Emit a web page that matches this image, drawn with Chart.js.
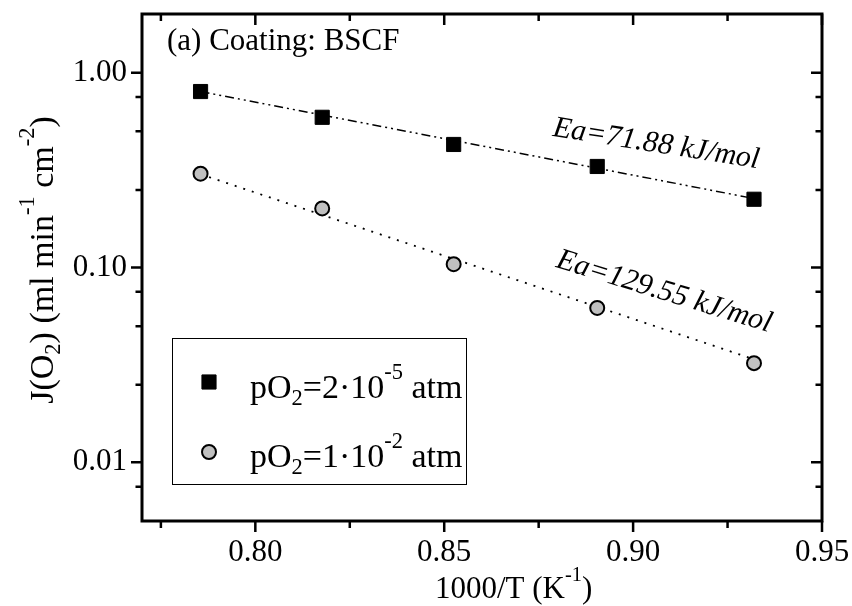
<!DOCTYPE html>
<html>
<head>
<meta charset="utf-8">
<script src="https://cdn.jsdelivr.net/npm/chart.js@4/dist/chart.umd.min.js"></script>
<style>
  html, body { margin: 0; padding: 0; background: #fff; }
  canvas { display: block; }
</style>
</head>
<body>
<canvas id="fluxChart" width="852" height="606"></canvas>
<script>
// 1000/T (K^-1) for 1000, 950, 900, 850 and 800 C
var invTemp = [0.7855, 0.8177, 0.8525, 0.8905, 0.9320];
// oxygen flux J(O2), ml min^-1 cm^-2
var fluxLowPO2  = [0.80, 0.59, 0.428, 0.33, 0.224];
var fluxHighPO2 = [0.303, 0.201, 0.104, 0.062, 0.0323];

// Arrhenius fit lines, end points
var fitX       = [0.7855, 0.9320];
var fitLowPO2  = [0.80, 0.226];
var fitHighPO2 = [0.301, 0.0338];

var xMajorTicks = [0.80, 0.85, 0.90, 0.95];
var xMinorTicks = [0.775, 0.825, 0.875, 0.925];
var yMajorTicks = [0.01, 0.1, 1];
var yMinorTicks = [0.0075, 0.025, 0.05, 0.075, 0.25, 0.5, 0.75];

var SERIF = '"Liberation Serif", "Times New Roman", serif';

function toPoints(xs, ys) {
  var pts = [];
  for (var i = 0; i < xs.length; i++) pts.push({x: xs[i], y: ys[i]});
  return pts;
}

// text with sub/superscript pieces: [text, ''|'sub'|'sup']
function richWidth(ctx, parts, size, italic) {
  var w = 0;
  parts.forEach(function (p) {
    var s = p[1] ? size * 0.66 : size;
    ctx.font = (italic ? 'italic ' : '') + s + 'px ' + SERIF;
    w += ctx.measureText(p[0]).width;
  });
  return w;
}
function drawRich(ctx, parts, x, y, size, italic) {
  var cx = x;
  ctx.textAlign = 'left';
  ctx.textBaseline = 'alphabetic';
  parts.forEach(function (p) {
    var s = p[1] ? size * 0.66 : size;
    var dy = p[1] === 'sub' ? size * 0.22 : (p[1] === 'sup' ? -size * 0.55 : 0);
    ctx.font = (italic ? 'italic ' : '') + s + 'px ' + SERIF;
    ctx.fillText(p[0], cx, y + dy);
    cx += ctx.measureText(p[0]).width;
  });
}

var legendItems = [
  {dataset: 0, parts: [['pO', ''], ['2', 'sub'], ['=2\u00b710', ''], ['-5', 'sup'], [' atm', '']]},
  {dataset: 1, parts: [['pO', ''], ['2', 'sub'], ['=1\u00b710', ''], ['-2', 'sup'], [' atm', '']]}
];

// frame, inward/outward ticks, titles, legend box and labels
var decorations = {
  id: 'decorations',
  afterDraw: function (chart) {
    var ctx = chart.ctx;
    var a = chart.chartArea;
    var xs = chart.scales.x, ys = chart.scales.y;
    ctx.save();
    ctx.strokeStyle = '#000';
    ctx.fillStyle = '#000';
    ctx.lineCap = 'butt';

    ctx.lineWidth = 2.5;
    function tickX(v, len) {
      var px = xs.getPixelForValue(v);
      ctx.beginPath();
      ctx.moveTo(px, a.bottom); ctx.lineTo(px, a.bottom + len);
      ctx.moveTo(px, a.top); ctx.lineTo(px, a.top + len);
      ctx.stroke();
    }
    function tickY(v, len) {
      var py = ys.getPixelForValue(v);
      ctx.beginPath();
      ctx.moveTo(a.left, py); ctx.lineTo(a.left - len, py);
      ctx.moveTo(a.right, py); ctx.lineTo(a.right - len, py);
      ctx.stroke();
    }
    xMajorTicks.forEach(function (v) { tickX(v, 11); });
    xMinorTicks.forEach(function (v) { tickX(v, 7); });
    yMajorTicks.forEach(function (v) { tickY(v, 11); });
    yMinorTicks.forEach(function (v) { tickY(v, 6.5); });

    ctx.lineWidth = 3;
    ctx.strokeRect(a.left, a.top, a.right - a.left, a.bottom - a.top);

    // axis titles
    drawRich(ctx, [['1000/T (K', ''], ['-1', 'sup'], [')', '']], 435, 598, 31);
    var yTitle = [['J(O', ''], ['2', 'sub'], [') (ml min', ''], ['-1', 'sup'], [' cm', ''], ['-2', 'sup'], [')', '']];
    var tw = richWidth(ctx, yTitle, 34);
    ctx.save();
    ctx.translate(53, 260);
    ctx.rotate(-Math.PI / 2);
    drawRich(ctx, yTitle, -tw / 2, 0, 34);
    ctx.restore();

    // panel label
    drawRich(ctx, [['(a) Coating: BSCF', '']], 167, 50, 31);

    // activation energies along the fit lines
    function ea(text, xv, yv, deg) {
      ctx.save();
      ctx.translate(xs.getPixelForValue(xv), ys.getPixelForValue(yv));
      ctx.rotate(deg * Math.PI / 180);
      drawRich(ctx, [[text, '']], 0, 0, 30, true);
      ctx.restore();
    }
    ea('Ea=71.88 kJ/mol', 0.8785, 0.475, 9);
    ea('Ea=129.55 kJ/mol', 0.8793, 0.1008, 17);

    // legend
    ctx.lineWidth = 1;
    ctx.strokeRect(172.5, 338.5, 294, 146);
    legendItems.forEach(function (item, i) {
      var ds = chart.data.datasets[item.dataset];
      var cy = 382 + i * 70;
      ctx.fillStyle = ds.backgroundColor;
      ctx.strokeStyle = ds.borderColor;
      ctx.lineWidth = ds.borderWidth;
      Chart.helpers.drawPoint(ctx, {
        pointStyle: ds.pointStyle, rotation: 0,
        radius: ds.pointRadius, borderWidth: ds.borderWidth
      }, 209, cy);
      ctx.fillStyle = '#000';
      drawRich(ctx, item.parts, 250, 398 + i * 69, 34);
    });
    ctx.restore();
  }
};

new Chart(document.getElementById('fluxChart'), {
  type: 'scatter',
  data: {
    datasets: [
      {
        label: 'pO2=2e-5 atm',
        data: toPoints(invTemp, fluxLowPO2),
        pointStyle: 'rect',
        pointRadius: 10,
        backgroundColor: '#000',
        borderColor: '#000',
        borderWidth: 1,
        showLine: false
      },
      {
        label: 'pO2=1e-2 atm',
        data: toPoints(invTemp, fluxHighPO2),
        pointStyle: 'circle',
        pointRadius: 7,
        backgroundColor: '#c0c0c0',
        borderColor: '#000',
        borderWidth: 2,
        showLine: false
      },
      {
        label: 'fit 1',
        data: toPoints(fitX, fitLowPO2),
        showLine: true,
        pointRadius: 0,
        borderColor: '#000',
        borderWidth: 1.5,
        borderDash: [9, 4, 2, 4, 2, 4],
        fill: false
      },
      {
        label: 'fit 2',
        data: toPoints(fitX, fitHighPO2),
        showLine: true,
        pointRadius: 0,
        borderColor: '#000',
        borderWidth: 1.8,
        borderDash: [2, 7],
        fill: false
      }
    ]
  },
  options: {
    responsive: false,
    animation: false,
    devicePixelRatio: 1,
    layout: { padding: { top: 14, right: 30, left: 0, bottom: 0 } },
    plugins: {
      legend: { display: false },
      tooltip: { enabled: false }
    },
    scales: {
      x: {
        type: 'linear',
        min: 0.77,
        max: 0.95,
        afterBuildTicks: function (scale) {
          scale.ticks = xMajorTicks.map(function (v) { return {value: v}; });
        },
        afterFit: function (scale) {
          scale.height = 85;
          scale.paddingLeft = 0; scale.paddingRight = 0;
        },
        ticks: {
          callback: function (v) { return Number(v).toFixed(2); },
          font: { family: SERIF, size: 31 },
          color: '#000',
          padding: 13,
          maxRotation: 0,
          autoSkip: false
        },
        grid: { display: false, drawTicks: false },
        border: { display: false }
      },
      y: {
        type: 'logarithmic',
        min: 0.005,
        max: 2,
        afterBuildTicks: function (scale) {
          scale.ticks = yMajorTicks.map(function (v) { return {value: v}; });
        },
        afterFit: function (scale) {
          scale.width = 142;
          scale.paddingTop = 0; scale.paddingBottom = 0;
        },
        ticks: {
          callback: function (v) { return Number(v).toFixed(2); },
          font: { family: SERIF, size: 31 },
          color: '#000',
          padding: 15,
          autoSkip: false
        },
        grid: { display: false, drawTicks: false },
        border: { display: false }
      }
    }
  },
  plugins: [decorations]
});
</script>
</body>
</html>
